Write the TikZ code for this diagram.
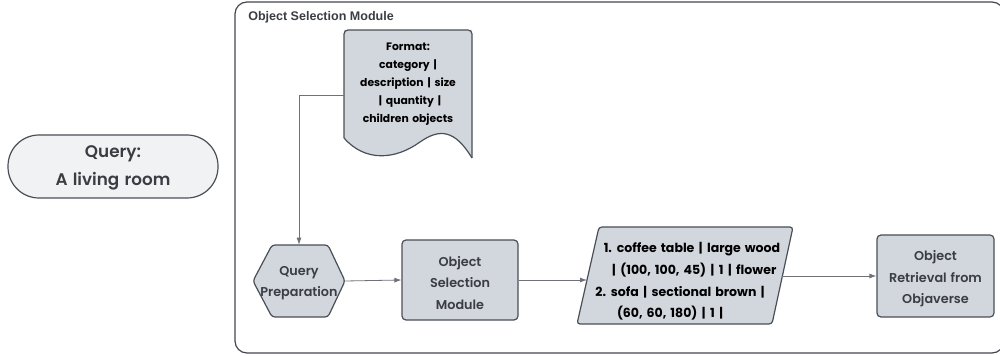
\documentclass[tikz,border=0pt]{standalone}
\usepackage{fontspec}
\setmainfont{Poppins}
\newfontfamily\semifont{Poppins SemiBold}[WordSpace=1.3]
\newfontfamily\heavyfont{Poppins Bold}[WordSpace=1.5]
\newfontfamily\titlefont{Liberation Sans}
\usetikzlibrary{arrows.meta}
% field separator with generous spacing on both sides
\newcommand\pipe{\hspace{0.36em}|\hspace{0.36em}\ignorespaces}
\definecolor{edge}{HTML}{4A4F57}
\definecolor{shapefill}{HTML}{D2D6DD}
\definecolor{pillfill}{HTML}{F1F2F4}
\definecolor{wire}{HTML}{6E7278}
\definecolor{ink}{HTML}{3A3D42}
\tikzset{
  outline/.style={draw=edge, line width=0.9pt, fill=shapefill},
  boxtext/.style={align=center, inner sep=0pt, text=ink,
    font=\semifont\fontsize{9.6}{16.1}\selectfont},
  listline/.style={inner sep=0pt, text=black,
    font=\heavyfont\fontsize{9.4}{12}\selectfont},
  wirearrow/.style={draw=wire, line width=0.6pt, -{Latex[length=5.25pt,width=3.75pt]}},
}
\begin{document}
\begin{tikzpicture}[x=0.75pt,y=-0.75pt]
\useasboundingbox (0,0) rectangle (1000,356);

% module frame
\draw[draw=edge!90!black, line width=0.9pt, rounded corners=9pt] (235,2) rectangle (1004,353);
\node[anchor=west, inner sep=0pt, text=ink, font=\titlefont\fontsize{9.4}{11}\selectfont\bfseries]
  (title) at (248,17) {Object Selection Module};

% query pill
\node[draw=edge, line width=0.9pt, fill=pillfill, rounded corners=23.25pt,
  minimum width=157.5pt, minimum height=47.25pt, inner sep=0pt] (query) at (113,166.5) {};
\node[align=center, inner sep=0pt, text=ink, font=\semifont\fontsize{12.6}{21}\selectfont]
  (querytext) at (113,168) {Query:\\A living room};

% format document
\fill[shapefill] (344,138) -- (344,30) -- (472,30) -- (472,158)
  .. controls (455,130) and (440,128) .. (420,142)
  .. controls (395,160) and (365,162) .. (344,138) -- cycle;
\draw[draw=edge, line width=0.9pt, rounded corners=3pt] (344,138) -- (344,30) -- (472,30) -- (472,158);
\draw[draw=edge, line width=0.9pt] (472,158)
  .. controls (455,130) and (440,128) .. (420,142)
  .. controls (395,160) and (365,162) .. (344,138);
\node[minimum width=96pt, minimum height=97.5pt, inner sep=0pt] (doc) at (408,95) {};
\node[align=center, inner sep=0pt, text=black, font=\heavyfont\fontsize{8.1}{13.6}\selectfont]
  (doctext) at (408,84) {Format:\\category\pipe\\description\pipe size\\\pipe quantity\pipe\\children objects};

% query preparation hexagon
\draw[outline, rounded corners=2.25pt] (253,281) -- (272,245) -- (328,245) -- (345,281) -- (328,317) -- (272,317) -- cycle;
\node[minimum width=69pt, minimum height=54pt, inner sep=0pt] (prep) at (299,281) {};
\node[boxtext] (preptext) at (299,283) {Query\\Preparation};

% object selection box
\node[outline, rounded corners=3pt, minimum width=87pt, minimum height=60pt, inner sep=0pt]
  (select) at (460,280) {};
\node[boxtext] (selecttext) at (460,283) {Object\\Selection\\Module};

% output list parallelogram, each line centred along the slant
\draw[outline, rounded corners=2.25pt] (599,227) -- (793,227) -- (772,324) -- (577,324) -- cycle;
\coordinate (listin) at (587,280);
\coordinate (listout) at (782,276);
\node[listline] (list1) at (692,249) {1. coffee table\pipe large wood};
\node[listline] (list2) at (692,270.5) {\pipe(100, 100, 45)\pipe 1\pipe flower};
\node[listline] (list3) at (680,292) {2. sofa\pipe sectional brown\pipe};
\node[listline] (list4) at (670,313.5) {(60, 60, 180)\pipe 1\pipe};

% retrieval box
\node[outline, rounded corners=3pt, minimum width=87.75pt, minimum height=61.5pt, inner sep=0pt]
  (retrieve) at (935.5,276) {};
\node[boxtext] (retrievetext) at (935.5,279) {Object\\Retrieval from\\Objaverse};

% connectors
\draw[wirearrow] (doc.west) -- (299,95) -- (prep.north);
\draw[wirearrow] (prep.east) -- (select.west);
\draw[wirearrow] (select.east) -- (listin);
\draw[wirearrow] (listout) -- (retrieve.west);
\end{tikzpicture}
\end{document}
